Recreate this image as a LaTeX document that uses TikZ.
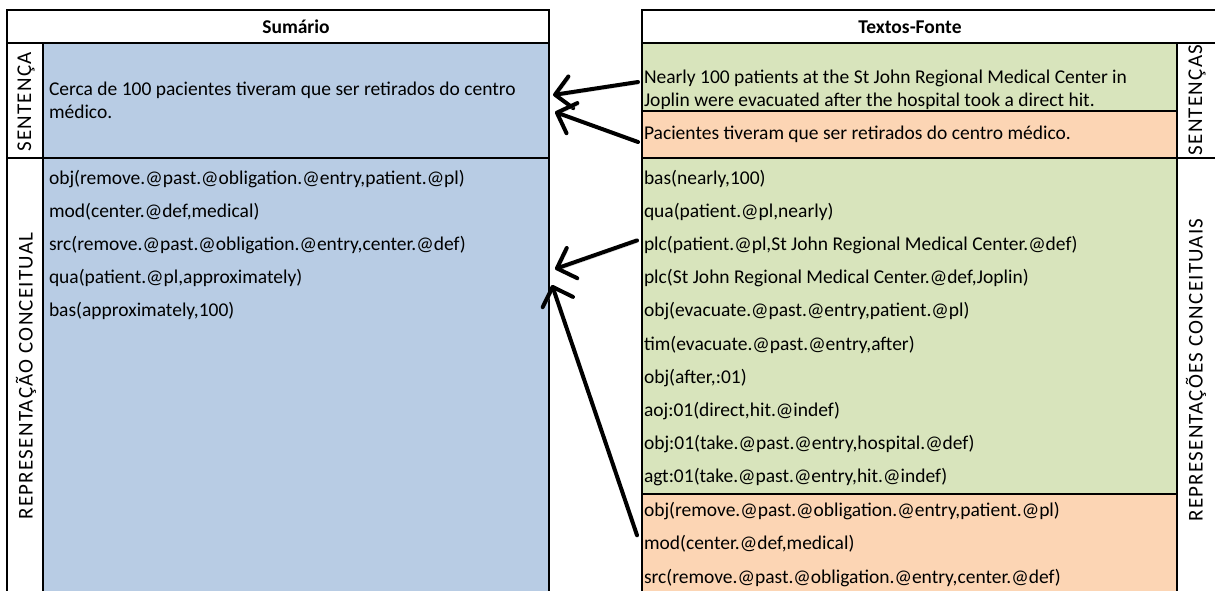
\documentclass[tikz,border=0pt]{standalone}
\usepackage{fontspec}
\setmainfont{Carlito}
\newfontfamily\sidefamily[LetterSpace=6]{Carlito}
\usetikzlibrary{arrows.meta}
\definecolor{sumblue}{HTML}{B8CCE4}
\definecolor{srcgreen}{HTML}{D8E4BC}
\definecolor{srcorange}{HTML}{FCD5B4}
\newcommand{\bodyfont}{\fontsize{19.5}{23}\selectfont}
\newcommand{\sidefont}{\sidefamily\fontsize{21}{21}\selectfont}
\begin{document}
\begin{tikzpicture}[x=1pt,y=-1pt,
  cell/.style={draw=none,inner sep=0pt,outer sep=0pt,anchor=north west},
  rule/.style={line width=2pt,line cap=rect},
  txt/.style={anchor=base west,inner sep=0pt,outer sep=0pt,font=\bodyfont,
              text height=14pt,text depth=4pt},
  % two-line cells: the base anchor sits on the last line
  para/.style={anchor=base west,inner sep=0pt,outer sep=0pt,font=\bodyfont,align=left},
  head/.style={anchor=base,inner sep=0pt,font=\bodyfont\bfseries},
  side/.style={rotate=90,inner sep=0pt,font=\sidefont},
  conn/.style={line width=4pt,line cap=round,
               -{Straight Barb[length=16pt,width=32pt,line width=4pt,round]},
               preaction={draw=black!35,opacity=0.5,
                 transform canvas={shift={(1.5pt,-2pt)}}}}]
\useasboundingbox (0,0) rectangle (1215,590);
\clip (0,0) rectangle (1215,590);

% ---------- Sumario table ----------
\node[cell,fill=sumblue,minimum width=506pt,minimum height=115pt] (sumsent) at (43,43) {};
\node[cell,fill=sumblue,minimum width=506pt,minimum height=462pt] (sumrep) at (43,158) {};
\draw[rule] (7,10) rectangle (549,640);
\draw[rule] (7,43) -- (549,43);
\draw[rule] (43,43) -- (43,640);
\draw[rule] (7,158) -- (549,158);

\node[head] (sumhead) at (296,33) {Sumário};
\node[side] (lsent) at (26,102) {SENTENÇA};
\node[side] (lrep) at (26,376) {REPRESENTAÇÃO CONCEITUAL};

\node[para] (cerca) at (49,118) {Cerca de 100 pacientes tiveram que ser retirados do centro\\médico.};

\node[txt] (s1) at (49,184)   {obj(remove.@past.@obligation.@entry,patient.@pl)};
\node[txt] (s2) at (49,217.2) {mod(center.@def,medical)};
\node[txt] (s3) at (49,250.4) {src(remove.@past.@obligation.@entry,center.@def)};
\node[txt] (s4) at (49,283.6) {qua(patient.@pl,approximately)};
\node[txt] (s5) at (49,316.8) {bas(approximately,100)};

% ---------- Textos-Fonte table ----------
\node[cell,fill=srcgreen,minimum width=535pt,minimum height=68pt] (srcA) at (642,43) {};
\node[cell,fill=srcorange,minimum width=535pt,minimum height=47pt] (srcB) at (642,111) {};
\node[cell,fill=srcgreen,minimum width=535pt,minimum height=336.4pt] (srcrepA) at (642,158) {};
\node[cell,fill=srcorange,minimum width=535pt,minimum height=145.6pt] (srcrepB) at (642,494.4) {};
\draw[rule] (642,10) rectangle (1240,640);
\draw[rule] (642,43) -- (1240,43);
\draw[rule] (1177,43) -- (1177,640);
\draw[rule] (642,158) -- (1240,158);
\draw[rule] (642,111) -- (1177,111);
\draw[rule] (642,494.4) -- (1177,494.4);

\node[head] (srchead) at (910,33) {Textos-Fonte};
\node[side] (rsent) at (1197,100) {SENTENÇAS};
\node[side] (rrep) at (1196,370) {REPRESENTAÇÕES CONCEITUAIS};

\node[para] (nearly) at (644,106) {Nearly 100 patients at the St John Regional Medical Center in\\Joplin were evacuated after the hospital took a direct hit.};
\node[txt] (pac) at (644,139) {Pacientes tiveram que ser retirados do centro médico.};

\node[txt] (r1)  at (644,184)   {bas(nearly,100)};
\node[txt] (r2)  at (644,217.2) {qua(patient.@pl,nearly)};
\node[txt] (r3)  at (644,250.4) {plc(patient.@pl,St John Regional Medical Center.@def)};
\node[txt] (r4)  at (644,283.6) {plc(St John Regional Medical Center.@def,Joplin)};
\node[txt] (r5)  at (644,316.8) {obj(evacuate.@past.@entry,patient.@pl)};
\node[txt] (r6)  at (644,350)   {tim(evacuate.@past.@entry,after)};
\node[txt] (r7)  at (644,383.2) {obj(after,:01)};
\node[txt] (r8)  at (644,416.4) {aoj:01(direct,hit.@indef)};
\node[txt] (r9)  at (644,449.6) {obj:01(take.@past.@entry,hospital.@def)};
\node[txt] (r10) at (644,482.8) {agt:01(take.@past.@entry,hit.@indef)};
\node[txt] (o1)  at (644,516)   {obj(remove.@past.@obligation.@entry,patient.@pl)};
\node[txt] (o2)  at (644,549.5) {mod(center.@def,medical)};
\node[txt] (o3)  at (644,583)   {src(remove.@past.@obligation.@entry,center.@def)};

% ---------- connectors ----------
\draw[conn] ([xshift=-4pt,yshift=-5pt]srcA.west) -- ([xshift=4pt,yshift=5.5pt]sumsent.east);
\draw[conn] ([xshift=-4pt,yshift=-7.5pt]srcB.west) -- ([xshift=6pt,yshift=-11.5pt]sumsent.east);
\draw[conn] ([xshift=-7pt,yshift=5pt]r3.west) -- ([xshift=6pt,yshift=120pt]sumrep.east);
\draw[conn] ([xshift=-5pt,yshift=32pt]srcrepB.west) -- ([xshift=3pt,yshift=104pt]sumrep.east);
\end{tikzpicture}
\end{document}
